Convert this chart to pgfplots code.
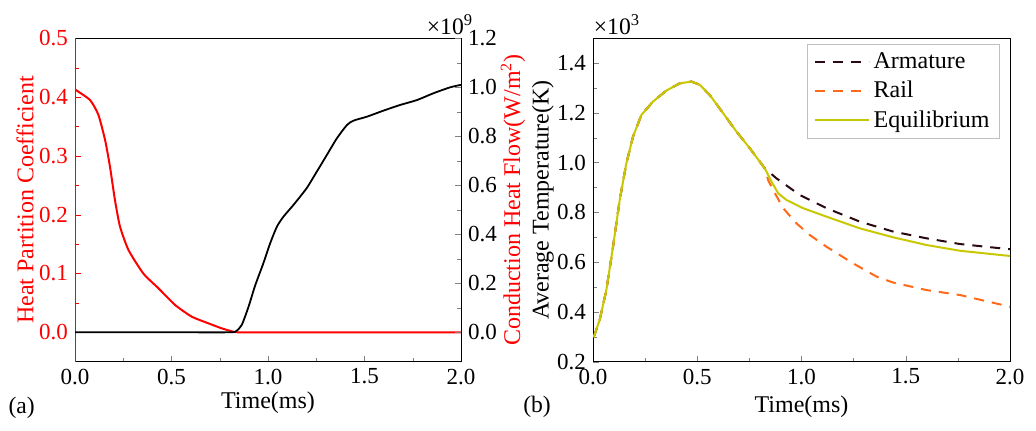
\documentclass[border=0pt]{standalone}
\usepackage{fontspec}
\setmainfont{Liberation Serif}
\usepackage{pgfplots}
\pgfplotsset{compat=1.18}
\definecolor{arm}{HTML}{2A0A10}
\definecolor{rail}{HTML}{FF6A1A}
\definecolor{equi}{HTML}{C8C800}
\begin{document}
\begin{tikzpicture}[font=\fontsize{11.8}{14}\selectfont]
\useasboundingbox (0,0) rectangle (518pt,215pt);
\pgfplotsset{
  every axis/.append style={
    scale only axis, anchor=south west,
    font=\fontsize{11.5}{13.8}\selectfont,
    /pgf/number format/assume math mode=true,
    tick align=inside,
    xmin=0, xmax=2, xtick={0,0.5,1,1.5,2}, minor x tick num=1,
    xticklabel style={/pgf/number format/fixed,/pgf/number format/precision=1,/pgf/number format/fixed zerofill},
    yticklabel style={/pgf/number format/fixed,/pgf/number format/precision=1,/pgf/number format/fixed zerofill},
    every axis label/.append style={font=\fontsize{12}{14}\selectfont},
    major tick length=3pt, minor tick length=2pt,
  }
}
% ---------- panel (a), left axis ----------
\begin{axis}[at={(37.5pt,34.15pt)}, width=193pt, height=161.7pt,
  axis x line*=box, axis y line*=left,
  xtick pos=bottom, ytick pos=left,
  ymin=-0.05, ymax=0.5, ytick={0,0.1,0.2,0.3,0.4,0.5}, minor y tick num=1,
  y axis line style={red}, ytick style={red}, minor y tick style={red},
  yticklabel style={red},
  ylabel style={red, at={(rel axis cs:-0.1295,0.5)}, anchor=center, rotate=0},
  xlabel style={at={(rel axis cs:0.5,-0.1277)}, anchor=center},
  ylabel={Heat Partition Coefficient}, xlabel={Time(ms)}]
\addplot[red, line width=1pt, smooth, tension=0.35] coordinates {
(0,0.413) (0.078,0.395) (0.121,0.370) (0.156,0.327) (0.181,0.282)
(0.207,0.225) (0.233,0.180) (0.277,0.140) (0.354,0.100) (0.432,0.075)
(0.519,0.0464) (0.605,0.0266) (0.691,0.0153) (0.76,0.0068) (0.821,0.001)
(0.86,0) (1.2,0) (2.0,0)};
\end{axis}
% ---------- panel (a), right axis ----------
\begin{axis}[at={(37.5pt,34.15pt)}, width=193pt, height=161.7pt,
  axis x line=none, axis y line*=right,
  ymin=-0.12, ymax=1.2, ytick={0,0.2,0.4,0.6,0.8,1.0,1.2}, minor y tick num=1,
  ylabel style={red, at={(rel axis cs:1.1347,0.5)}, anchor=center},
  ylabel={Conduction Heat Flow(W/m\textsuperscript{2})}]
\addplot[black, line width=0.9pt, smooth, tension=0.4] coordinates {
(0,0) (0.5,0) (0.80,0) (0.835,0.005) (0.864,0.03) (0.899,0.104) (0.933,0.19)
(0.976,0.282) (1.011,0.363) (1.046,0.431) (1.08,0.472) (1.132,0.52)
(1.20,0.588) (1.253,0.656) (1.305,0.724) (1.357,0.792) (1.409,0.846)
(1.443,0.864) (1.512,0.880) (1.599,0.905) (1.685,0.928) (1.772,0.948)
(1.858,0.976) (1.944,1.0) (2.0,1.01)};
\end{axis}
% ---------- panel (b) ----------
\begin{axis}[at={(296.5pt,34.15pt)}, width=208.5pt, height=161.7pt,
  xtick pos=bottom, ytick pos=left,
  ymin=0.2, ymax=1.5, ytick={0.2,0.4,0.6,0.8,1.0,1.2,1.4}, minor y tick num=1,
  ylabel style={at={(rel axis cs:-0.12,0.5)}, anchor=center},
  xlabel style={at={(rel axis cs:0.5,-0.14)}, anchor=center},
  ylabel={Average Temperature(K)}, xlabel={Time(ms)},
  legend style={at={(0.976,0.981)}, anchor=north east, draw=gray!50,
    font=\fontsize{12}{14}\selectfont, row sep=0.8pt, inner xsep=3pt},
  legend cell align=left,
  legend image code/.code={\draw[#1] (0pt,0pt) -- (27pt,0pt);}]
\addplot[arm, line width=1pt, dash pattern=on 5pt off 4pt] coordinates {
(0.003,0.298) (0.032,0.368) (0.064,0.488) (0.096,0.662) (0.128,0.850)
(0.16,0.998) (0.192,1.105) (0.232,1.192) (0.288,1.246) (0.352,1.290)
(0.416,1.319) (0.472,1.326) (0.512,1.313) (0.56,1.272) (0.624,1.199)
(0.688,1.125) (0.752,1.058) (0.80,1.004) (0.824,0.977)
(0.88,0.937) (0.992,0.870) (1.12,0.817) (1.28,0.763) (1.44,0.723)
(1.6,0.696) (1.76,0.673) (2.0,0.652)};
\addlegendentry{Armature}
\addplot[rail, line width=1pt, dash pattern=on 5pt off 4pt] coordinates {
(0.003,0.298) (0.032,0.368) (0.064,0.488) (0.096,0.662) (0.128,0.850)
(0.16,0.998) (0.192,1.105) (0.232,1.192) (0.288,1.246) (0.352,1.290)
(0.416,1.319) (0.472,1.326) (0.512,1.313) (0.56,1.272) (0.624,1.199)
(0.688,1.125) (0.752,1.058) (0.80,1.004) (0.824,0.977)
(0.84,0.93) (0.864,0.890) (0.912,0.817) (0.976,0.756) (1.04,0.709)
(1.12,0.662) (1.248,0.595) (1.36,0.542) (1.44,0.518) (1.6,0.488)
(1.76,0.468) (2.0,0.421)};
\addlegendentry{Rail}
\addplot[equi, line width=1pt] coordinates {
(0.003,0.298) (0.032,0.368) (0.064,0.488) (0.096,0.662) (0.128,0.850)
(0.16,0.998) (0.192,1.105) (0.232,1.192) (0.288,1.246) (0.352,1.290)
(0.416,1.319) (0.472,1.326) (0.512,1.313) (0.56,1.272) (0.624,1.199)
(0.688,1.125) (0.752,1.058) (0.80,1.004) (0.824,0.977)
(0.856,0.924) (0.888,0.877) (0.928,0.850) (1.008,0.817) (1.12,0.783)
(1.28,0.736) (1.44,0.700) (1.6,0.669) (1.76,0.646) (2.0,0.625)};
\addlegendentry{Equilibrium}
\end{axis}
\node at (225pt,202.5pt) {×10\textsuperscript{9}};
\node at (308.5pt,202.5pt) {×10\textsuperscript{3}};
\node at (10.8pt,11pt) {(a)};
\node at (268.5pt,11.5pt) {(b)};
\end{tikzpicture}
\end{document}
